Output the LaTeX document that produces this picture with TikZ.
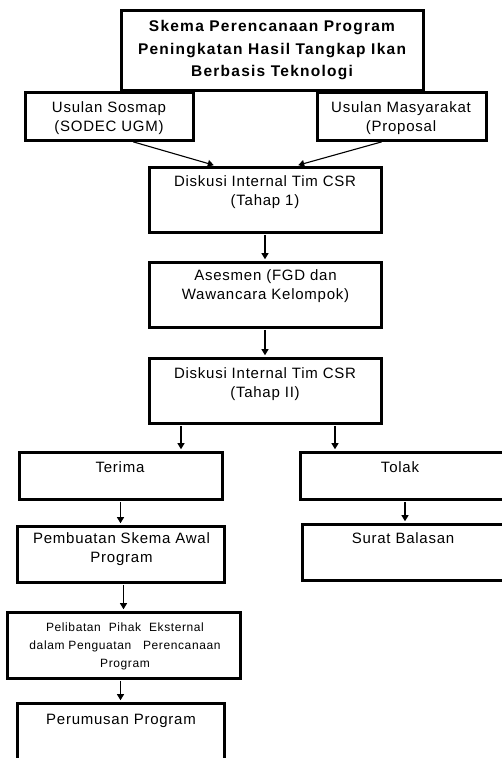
\documentclass[tikz,border=0pt]{standalone}
\usepackage{fontspec}
\setmainfont{Liberation Sans}[LetterSpace=5]
\newfontfamily\titlefont{Liberation Sans}[LetterSpace=8]
\usetikzlibrary{arrows.meta}
\begin{document}
\begin{tikzpicture}[x=1pt,y=-1pt,
  box/.style={draw=black, line width=3pt, inner sep=0pt, fill=white},
  txt/.style={anchor=base, align=center, inner sep=0pt, text=black, font={\fontsize{15}{19}\selectfont}},
  ttl/.style={anchor=base, align=center, inner sep=0pt, text=black, font={\titlefont\bfseries\fontsize{15.5}{22.5}\selectfont}},
  small/.style={anchor=base, align=center, inner sep=0pt, text=black, font={\fontsize{12}{18}\selectfont}},
  arr/.style={line width=1.1pt, -{Triangle[width=7pt,length=6pt]}, shorten >=1.3pt, shorten <=1.3pt}]
\useasboundingbox (0,0) rectangle (502,758);
\clip (0,0) rectangle (502,758);
\fill[white] (0,0) rectangle (502,758);
% boxes
\node[box, minimum width=302pt, minimum height=80pt] (top) at (272,50) {};
\node[box, minimum width=168pt, minimum height=48pt] (sosmap) at (109,116) {};
\node[box, minimum width=169pt, minimum height=48pt] (masy) at (401.5,116) {};
\node[box, minimum width=232pt, minimum height=65pt] (d1) at (265,199.5) {};
\node[box, minimum width=232pt, minimum height=65pt] (ases) at (265,294.5) {};
\node[box, minimum width=232pt, minimum height=65pt] (d2) at (265,390.5) {};
\node[box, minimum width=203pt, minimum height=47pt] (terima) at (120.5,475.5) {};
\node[box, minimum width=206pt, minimum height=47pt] (tolak) at (403,475.5) {};
\node[box, minimum width=207pt, minimum height=56pt] (pemb) at (120.5,554) {};
\node[box, minimum width=204pt, minimum height=56pt] (surat) at (404,552) {};
\node[box, minimum width=233pt, minimum height=66pt] (pelib) at (123.5,645) {};
\node[box, minimum width=207pt, minimum height=77pt] (perum) at (120.5,741.5) {};
% texts (anchor base = baseline of last line)
\node[ttl] (t-top) at (272,76.5) {Skema Perencanaan Program\\Peningkatan Hasil Tangkap Ikan\\Berbasis Teknologi};
\node[txt] (t-sosmap) at (109,131.5) {Usulan Sosmap\\(SODEC UGM)};
\node[txt] (t-masy) at (401,131.5) {Usulan Masyarakat\\(Proposal};
\node[txt] (t-d1) at (265,205.5) {Diskusi Internal Tim CSR\\(Tahap 1)};
\node[txt] (t-ases) at (265.5,299.5) {Asesmen (FGD dan\\Wawancara Kelompok)};
\node[txt] (t-d2) at (265,397.5) {Diskusi Internal Tim CSR\\(Tahap II)};
\node[txt] (t-terima) at (120,472.5) {Terima};
\node[txt] (t-tolak) at (400,472.5) {Tolak};
\node[txt] (t-pemb) at (121.5,562.5) {Pembuatan Skema Awal\\Program};
\node[txt] (t-surat) at (403,543.5) {Surat Balasan};
\node[small] (t-pelib) at (125,667) {Pelibatan\ \ Pihak\ \ Eksternal\\dalam Penguatan\ \ \ Perencanaan\\Program};
\node[txt] (t-perum) at (121,724.5) {Perumusan Program};
% connectors
\coordinate (xl) at (181,0);
\coordinate (xr) at (335,0);
\coordinate (xs) at (405,0);
\draw[arr] ([xshift=23pt]sosmap.south) -- ([xshift=-50pt]d1.north);
\draw[arr] ([xshift=-18.5pt]masy.south) -- ([xshift=32pt]d1.north);
\draw[arr] (d1.south) -- (ases.north);
\draw[arr] (ases.south) -- (d2.north);
\draw[arr] (d2.south -| xl) -- (terima.north -| xl);
\draw[arr] (d2.south -| xr) -- (tolak.north -| xr);
\draw[arr] (terima.south) -- (pemb.north);
\draw[arr] (tolak.south -| xs) -- (surat.north -| xs);
\draw[arr] (pemb.south -| pelib.north) -- (pelib.north);
\draw[arr] (pelib.south -| perum.north) -- (perum.north);
\end{tikzpicture}
\end{document}
